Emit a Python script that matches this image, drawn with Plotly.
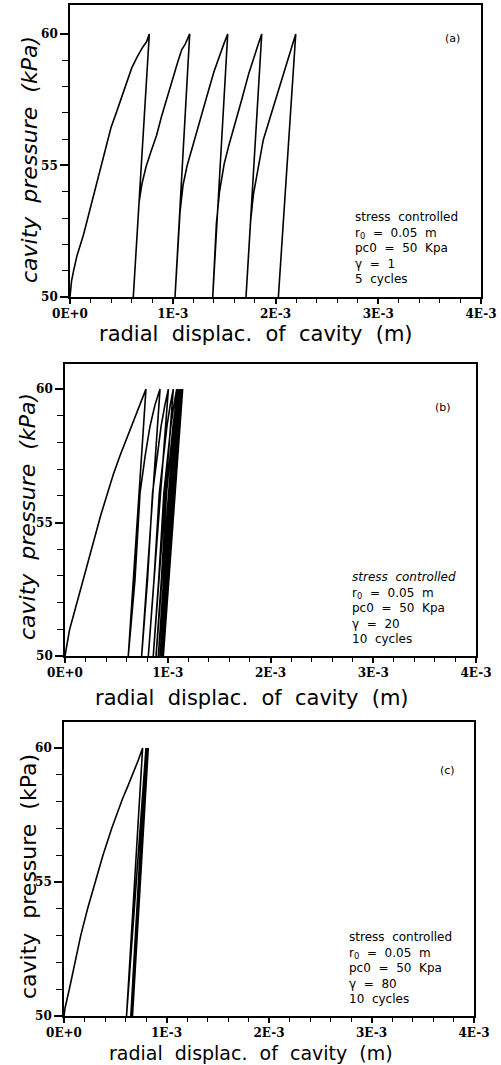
import plotly.graph_objects as go

# ---------------- data (displacement in units of 1E-3 m, pressure in kPa) ----------------
disp_a = [0, 0.004, 0.015, 0.035, 0.07, 0.13, 0.2, 0.25, 0.3, 0.35, 0.4, 0.45, 0.5, 0.55, 0.6, 0.65, 0.7, 0.745, 0.772,
          0.616,
          0.645, 0.672, 0.70, 0.74, 0.79, 0.843, 0.89, 0.941, 1.0, 1.05, 1.087, 1.12, 1.165,
          1.022,
          1.047, 1.071, 1.10, 1.14, 1.184, 1.25, 1.33, 1.40, 1.476, 1.50, 1.535,
          1.389,
          1.405, 1.425, 1.455, 1.50, 1.545, 1.59, 1.671, 1.74, 1.817, 1.84, 1.866,
          1.713,
          1.735, 1.758, 1.785, 1.83, 1.881, 1.95, 2.011, 2.085, 2.157, 2.175, 2.197,
          2.028]
pres_a = [50, 50.3, 50.6, 51.0, 51.6, 52.35, 53.4, 54.2, 55.0, 55.75, 56.45, 57.0, 57.55, 58.15, 58.7, 59.1, 59.45, 59.7, 60,
          50,
          51.9, 53.6, 54.3, 54.95, 55.55, 56.15, 56.85, 57.55, 58.35, 58.95, 59.4, 59.6, 60,
          50,
          51.7, 53.25, 54.25, 55.0, 55.6, 56.55, 57.6, 58.55, 59.45, 59.65, 60,
          50,
          51.4, 52.8, 54.0, 55.05, 55.75, 56.35, 57.5, 58.5, 59.5, 59.7, 60,
          50,
          51.5, 52.9, 53.9, 54.95, 55.97, 56.85, 57.62, 58.6, 59.52, 59.7, 60,
          50]

disp_b = [0, 0.016, 0.045, 0.081, 0.13, 0.178, 0.24, 0.30, 0.35, 0.406, 0.47, 0.535, 0.60, 0.66, 0.72, 0.788,
          0.616, 0.681, 0.730, 0.780, 0.827, 0.875, 0.925,
          0.746, 0.803, 0.852, 0.895, 0.935, 0.972, 1.006,
          0.811, 0.866, 0.918, 0.957, 0.992, 1.024, 1.054,
          0.859, 0.912, 0.962, 0.998, 1.030, 1.060, 1.087,
          0.886, 0.938, 0.988, 1.021, 1.051, 1.078, 1.103,
          0.908, 0.960, 1.008, 1.039, 1.068, 1.094, 1.119,
          0.925, 0.977, 1.022, 1.052, 1.080, 1.105, 1.129,
          0.941, 0.993, 1.036, 1.065, 1.092, 1.116, 1.139,
          0.951, 1.003, 1.045, 1.073, 1.099, 1.123, 1.145,
          0.957]
pres_b = [50, 50.4, 51.0, 51.5, 52.2, 52.85, 53.7, 54.55, 55.3, 56.0, 56.8, 57.5, 58.15, 58.75, 59.35, 60,
          50, 52.85, 56.1, 57.5, 58.6, 59.4, 60,
          50, 52.85, 56.1, 57.5, 58.6, 59.4, 60,
          50, 52.85, 56.1, 57.5, 58.6, 59.4, 60,
          50, 52.85, 56.1, 57.5, 58.6, 59.4, 60,
          50, 52.85, 56.1, 57.5, 58.6, 59.4, 60,
          50, 52.85, 56.1, 57.5, 58.6, 59.4, 60,
          50, 52.85, 56.1, 57.5, 58.6, 59.4, 60,
          50, 52.85, 56.1, 57.5, 58.6, 59.4, 60,
          50, 52.85, 56.1, 57.5, 58.6, 59.4, 60,
          50]

disp_c = [0, 0.01, 0.052, 0.10, 0.163, 0.23, 0.302, 0.38, 0.465, 0.52, 0.57, 0.62, 0.67, 0.72, 0.767,
          0.610, 0.800, 0.652, 0.808, 0.658, 0.812, 0.661, 0.815, 0.663, 0.817,
          0.665, 0.819, 0.666, 0.820, 0.667, 0.821, 0.668, 0.822, 0.668]
pres_c = [50, 50.3, 51.0, 51.9, 53.0, 54.0, 55.0, 56.0, 57.0, 57.6, 58.1, 58.55, 59.0, 59.5, 60,
          50, 60, 50, 60, 50, 60, 50, 60, 50, 60,
          50, 60, 50, 60, 50, 60, 50, 60, 50]

x_tickvals = [0, 1, 2, 3, 4]
x_ticktext = ["0E+0", "1E-3", "2E-3", "3E-3", "4E-3"]
x_minorvals = [0.2, 0.4, 0.6, 0.8, 1.2, 1.4, 1.6, 1.8, 2.2, 2.4, 2.6, 2.8, 3.2, 3.4, 3.6, 3.8]
y_tickvals = [50, 55, 60]
y_ticktext = ["50", "55", "60"]
y_minorvals = [51, 52, 53, 54, 56, 57, 58, 59]

panel_labels = ["(a)", "(b)", "(c)"]
info_lines = [
    ["stress  controlled", "r<sub>0</sub>  =  0.05  m", "pc0  =  50  Kpa", "γ  =  1", "5  cycles"],
    ["<i>stress  controlled</i>", "r<sub>0</sub>  =  0.05  m", "pc0  =  50  Kpa", "γ  =  20", "10  cycles"],
    ["stress  controlled", "r<sub>0</sub>  =  0.05  m", "pc0  =  50  Kpa", "γ  =  80", "10  cycles"],
]
x_title = "radial  displac.  of  cavity  (m)"
y_title = "cavity  pressure  (kPa)"

# ---------------- layout geometry (pixels) ----------------
W, H = 501, 1065
panels = [
    dict(l=70, r=481, t=5, b=297, ymax=61.1, lab=(452, 38), info=(353, 248),
         xt=(256, 334), xts=21, yt=(30, 160), ital=True),
    dict(l=65, r=476, t=364, b=656, ymax=60.94, lab=(443, 408), info=(350, 608),
         xt=(252, 698), xts=21, yt=(28, 517), ital=True),
    dict(l=64, r=474, t=722, b=1016, ymax=60.97, lab=(447, 770), info=(347, 968),
         xt=(251, 1053), xts=19, yt=(28, 877), ital=False),
]

def px(x, y):
    return x / W, 1 - y / H

fig = go.Figure()
data = [(disp_a, pres_a), (disp_b, pres_b), (disp_c, pres_c)]
annotations = []
for i, (p, (dx, dy)) in enumerate(zip(panels, data)):
    n = "" if i == 0 else str(i + 1)
    fig.add_trace(go.Scatter(x=dx, y=dy, mode="lines", line=dict(color="black", width=1.6),
                             xaxis="x" + n, yaxis="y" + n, showlegend=False, hoverinfo="skip"))
    axis_common = dict(showline=True, mirror=True, linecolor="black", linewidth=1.6, automargin=False,
                       showgrid=False, zeroline=False, ticks="outside", tickcolor="black",
                       tickwidth=1.5, tickfont=dict(family="DejaVu Serif", size=12, color="black"))
    fig.layout["xaxis" + n] = dict(axis_common, domain=[p["l"] / W, p["r"] / W], range=[0, 4],
                                   anchor="y" + n, tickmode="array", tickvals=x_tickvals,
                                   ticktext=["<b>%s</b>" % t for t in x_ticktext], ticklen=5,
                                   minor=dict(tickmode="array", tickvals=x_minorvals, ticks="outside",
                                              ticklen=4, tickwidth=1.2, tickcolor="black"))
    fig.layout["yaxis" + n] = dict(axis_common, domain=[1 - p["b"] / H, 1 - p["t"] / H],
                                   range=[50, p["ymax"]], anchor="x" + n, tickmode="array",
                                   tickvals=y_tickvals, ticktext=["<b>%s</b>" % t for t in y_ticktext],
                                   ticklen=8,
                                   minor=dict(tickmode="array", tickvals=y_minorvals, ticks="outside",
                                              ticklen=6, tickwidth=1.2, tickcolor="black"))
    # panel label
    lx, ly = px(*p["lab"])
    annotations.append(dict(x=lx, y=ly, xref="paper", yref="paper", text=panel_labels[i],
                            showarrow=False, xanchor="center", yanchor="middle",
                            font=dict(family="DejaVu Sans", size=11, color="black")))
    # info text block
    ix, iy = p["info"]
    ax, ay = px(ix, iy)
    annotations.append(dict(x=ax, y=ay, xref="paper", yref="paper", text="<br>".join(info_lines[i]),
                            showarrow=False, xanchor="left", yanchor="middle", align="left",
                            font=dict(family="DejaVu Sans", size=12, color="black")))
    # axis titles
    tx, ty = px(*p["xt"])
    annotations.append(dict(x=tx, y=ty, xref="paper", yref="paper", text=x_title, showarrow=False,
                            xanchor="center", yanchor="middle",
                            font=dict(family="DejaVu Sans", size=p["xts"], color="black")))
    vx, vy = px(*p["yt"])
    annotations.append(dict(x=vx, y=vy, xref="paper", yref="paper",
                            text=("<i>%s</i>" % y_title) if p["ital"] else y_title,
                            showarrow=False, textangle=-90, xanchor="center", yanchor="middle",
                            font=dict(family="DejaVu Sans", size=22, color="black")))

fig.update_layout(width=W, height=H, autosize=False, margin=dict(l=0, r=0, t=0, b=0),
                  paper_bgcolor="white", plot_bgcolor="white", annotations=annotations)
fig.write_html("out.html", config={"displayModeBar": False},
               post_script="document.body.style.margin='0px';")
